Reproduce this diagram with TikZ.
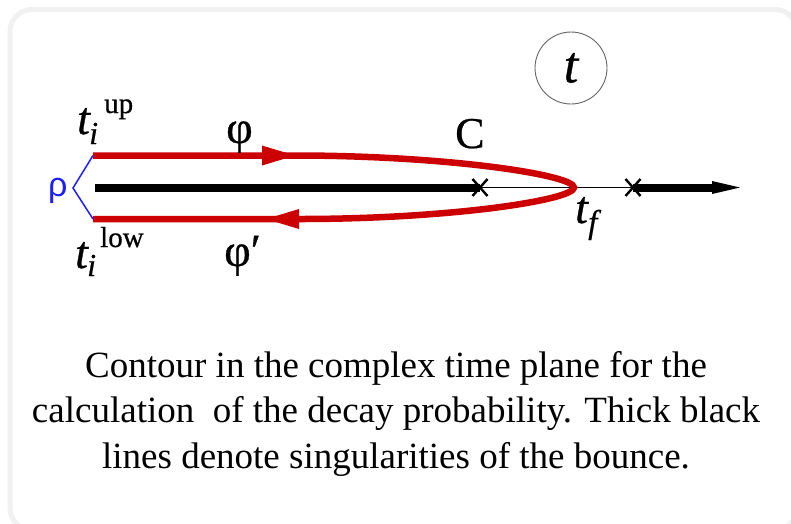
\documentclass[tikz,border=0pt]{standalone}
\usepackage{fontspec}
\setmainfont{Liberation Serif}
\newfontfamily\lblfont[FakeBold=0.6]{Liberation Serif}
\newfontfamily\sansrho{Liberation Sans}
\usetikzlibrary{calc}
\definecolor{contourred}{RGB}{204,0,0}
\definecolor{rhoblue}{RGB}{30,30,255}
\definecolor{panelgray}{RGB}{241,241,241}
\begin{document}
\begin{tikzpicture}[x=1pt,y=-1pt,
  lbl/.style={inner sep=0pt, anchor=base west},
  capline/.style={inner sep=0pt, anchor=base, font=\fontsize{37}{45}\selectfont},
  axisthick/.style={line width=8pt, black},
  axisthin/.style={line width=1.3pt, black},
  xmark/.style={line width=2.4pt, black},
  contour/.style={line width=6.5pt, contourred},
  headred/.style={fill=contourred},
  rholine/.style={line width=1.5pt, rhoblue},
  bigt/.style={font=\fontsize{46}{46}\lblfont\itshape},
  supstyle/.style={font=\fontsize{29}{29}\lblfont},
  substyle/.style={font=\fontsize{32}{32}\lblfont\itshape},
  greek/.style={font=\fontsize{46}{46}\lblfont}]
\useasboundingbox (0,0) rectangle (791,523);
\fill[white] (0,0) rectangle (791,523);
\draw[line width=5pt, panelgray, rounded corners=22pt] (10,9.5) rectangle (797,530);

% coordinates
\coordinate (a0) at (95,187.5);
\coordinate (x1) at (480,187.5);
\coordinate (x2) at (633,187.5);
\coordinate (a1) at (714,187.5);
\coordinate (up0) at (93,155.5);
\coordinate (up1) at (300,155.5);
\coordinate (tip) at (574,187.5);
\coordinate (lo1) at (300,219);
\coordinate (lo0) at (93,219);
\coordinate (rv) at (73,188);

% axis
\draw[axisthick] (a0) -- (x1);
\draw[axisthin] (x1) -- (x2);
\draw[axisthick] (x2) -- (a1);
\fill[black] (712,181) -- (740,187.5) -- (712,194) -- cycle;
\draw[xmark] ($(x1)+(-7.5,-8.5)$) -- ($(x1)+(7.5,8.5)$);
\draw[xmark] ($(x1)+(-7.5,8.5)$) -- ($(x1)+(7.5,-8.5)$);
\draw[xmark] ($(x2)+(-7.5,-8.5)$) -- ($(x2)+(7.5,8.5)$);
\draw[xmark] ($(x2)+(-7.5,8.5)$) -- ($(x2)+(7.5,-8.5)$);

% contour
\draw[contour] (up0) -- (up1) .. controls (450,156) and (574,175) .. (tip)
  .. controls (574,200) and (450,219) .. (lo1) -- (lo0);
\fill[headred] (262,145.5) -- (295,155.5) -- (262,165.5) -- cycle;
\fill[headred] (299,209) -- (266,219) -- (299,229) -- cycle;

% rho
\draw[rholine] (up0) -- (rv) -- (lo0);
\node[lbl, text=rhoblue, font=\fontsize{34}{34}\sansrho] (rho) at (48,196) {ρ};

% labels
\node[lbl, bigt] (tupt) at (77,134) {t};
\node[lbl, supstyle] (tupsup) at (104,113) {up};
\node[lbl, substyle] (tupsub) at (89,144) {i};
\node[lbl, bigt] (tlowt) at (75,268) {t};
\node[lbl, supstyle] (tlowsup) at (100,247) {low};
\node[lbl, substyle] (tlowsub) at (87,276) {i};
\node[lbl, greek] (phi) at (226,143) {φ};
\node[lbl, greek] (phip) at (224,266) {φ′};
\node[lbl, font=\fontsize{44}{44}\lblfont] (C) at (455,148) {C};
\node[lbl, bigt] (tft) at (575,223) {t};
\node[lbl, font=\fontsize{33}{33}\lblfont\itshape] (tff) at (588,233) {f};
\node[circle, draw=black!60, line width=0.9pt, minimum size=72pt, inner sep=0pt,
      font=\fontsize{52}{52}\lblfont\itshape] (tcirc) at (571,68) {t};

% caption
\node[capline] (cap1) at (396,377) {Contour in the complex time plane for the};
\node[capline] (cap2) at (396,422.5) {calculation\ \ of the decay probability. Thick black};
\node[capline] (cap3) at (396,468) {lines denote singularities of the bounce.};
\end{tikzpicture}
\end{document}
